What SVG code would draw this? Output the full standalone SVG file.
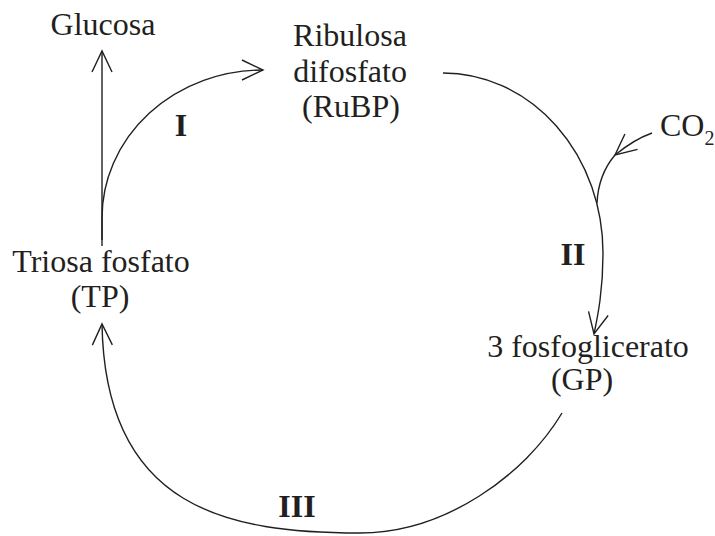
<svg xmlns="http://www.w3.org/2000/svg" width="715" height="536" viewBox="0 0 715 536">
  <style>
    .lbl { font-family: "Liberation Serif", "Times New Roman", serif; font-size: 32px; fill: #231f20; }
    .num { font-family: "Liberation Serif", "Times New Roman", serif; font-size: 32px; font-weight: bold; fill: #231f20; text-anchor: middle; }
    .sub { font-size: 20px; }
    .mid { text-anchor: middle; }
    .edge { fill: none; stroke: #231f20; stroke-width: 1.4; }
  </style>
  <defs>
    <marker id="arr" viewBox="-26 -14 30 28" markerWidth="30" markerHeight="28" refX="0" refY="0" orient="auto" markerUnits="userSpaceOnUse">
      <path d="M-21,-10 L0,0 L-21,10" fill="none" stroke="#231f20" stroke-width="1.4"/>
    </marker>
  </defs>
  <rect width="715" height="536" fill="#ffffff"/>

  <g id="connectors">
    <path id="to-glucosa" class="edge" d="M102,246 L102,51" marker-end="url(#arr)"/>
    <path id="step-I" class="edge" d="M102,240 L102,218 A161,148 0 0 1 263,70" marker-end="url(#arr)"/>
    <path id="step-II" class="edge" d="M443,73 A160,180 0 0 1 603,253 C603,290 598,315 594,334" marker-end="url(#arr)"/>
    <path id="co2-in-a" class="edge" d="M652,133 C638,138 626,146 615,155" marker-end="url(#arr)"/>
    <path id="co2-in-b" class="edge" d="M615,155 C604,168 598,182 597,203"/>
    <path id="step-III" class="edge" d="M562,413 C525,475 445,533 360,533 C230,533 105,510 102,324" marker-end="url(#arr)"/>
  </g>

  <g id="glucosa">
    <text class="lbl mid" x="103" y="35">Glucosa</text>
  </g>
  <g id="rubp">
    <text class="lbl mid" x="350" y="46">Ribulosa</text>
    <text class="lbl mid" x="350" y="82">difosfato</text>
    <text class="lbl mid" x="351" y="117">(RuBP)</text>
  </g>
  <g id="co2">
    <text class="lbl" x="660" y="136">CO<tspan class="sub" dy="9">2</tspan></text>
  </g>
  <g id="tp">
    <text class="lbl mid" x="101" y="272">Triosa fosfato</text>
    <text class="lbl mid" x="100" y="307">(TP)</text>
  </g>
  <g id="gp">
    <text class="lbl mid" x="588" y="357">3 fosfoglicerato</text>
    <text class="lbl mid" x="582" y="390">(GP)</text>
  </g>
  <g id="labels">
    <text class="num" x="181" y="136">I</text>
    <text class="num" x="573" y="265">II</text>
    <text class="num" x="297" y="517">III</text>
  </g>
</svg>
